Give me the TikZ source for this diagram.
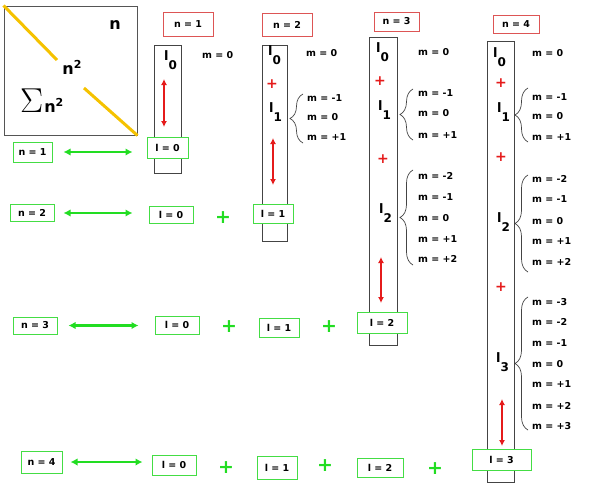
\documentclass[tikz,border=0pt]{standalone}
\usepackage{fontspec}
\setmainfont{DejaVu Sans}
\usetikzlibrary{decorations.pathreplacing,arrows.meta}
\definecolor{gboxc}{HTML}{44DD44}
\definecolor{garrc}{HTML}{22DD22}
\definecolor{rboxc}{HTML}{DD5555}
\definecolor{rarrc}{HTML}{E51B1B}
\definecolor{goldc}{HTML}{F5C200}
\definecolor{colc}{HTML}{444444}
\definecolor{sqc}{HTML}{555555}
\newcommand{\lsubx}[1]{{\fontsize{13}{13}\selectfont l}\raisebox{-9pt}{\fontsize{12}{12}\selectfont #1}}
\begin{document}
\begin{tikzpicture}[x=1pt,y=-1pt,
  every node/.style={font=\bfseries\fontsize{9.5}{11}\selectfont, inner sep=0pt},
  gbox/.style={draw=gboxc, line width=1pt, fill=white},
  rbox/.style={draw=rboxc, line width=1pt, fill=white},
  colbox/.style={draw=colc, line width=0.9pt},
  garrow/.style={draw=garrc, line width=2.5pt, {Latex[length=7pt,width=7.5pt]}-{Latex[length=7pt,width=7.5pt]}},
  rarrow/.style={draw=rarrc, line width=1.8pt, {Latex[length=6pt,width=6pt]}-{Latex[length=6pt,width=6pt]}},
  rplus/.style={text=rarrc, font=\bfseries\fontsize{14}{14}\selectfont},
  gplus/.style={text=garrc, font=\bfseries\fontsize{19}{19}\selectfont},
  mtext/.style={anchor=west},
  ltext/.style={anchor=base west},
  brc/.style={draw=colc, line width=0.7pt, decorate, decoration={brace, amplitude=13pt}},
  bigtext/.style={font=\bfseries\fontsize{16}{16}\selectfont}
]
\useasboundingbox (0,0) rectangle (596,501);

% square
\node[draw=sqc, line width=1pt, minimum width=133pt, minimum height=129pt] (sq) at (70.5,70.5) {};
\coordinate (g1) at (57,60);
\coordinate (g2) at (84,88);
\draw[goldc, line width=3pt] (sq.north west) -- (g1);
\draw[goldc, line width=3pt] (g2) -- (sq.south east);
\node[bigtext] (nlab) at (115,25) {n};
\node[bigtext] (n2lab) at (72,67) {n\raisebox{6pt}{\fontsize{11}{11}\selectfont 2}};
\node[bigtext, anchor=base west] (sumlab) at (20,112) {\scalebox{2}{\(\Sigma\)}\kern1pt n\raisebox{6pt}{\fontsize{11}{11}\selectfont 2}};

% columns
\node[colbox, minimum width=27pt, minimum height=128pt] (c1) at (167.5,109) {};
\node[colbox, minimum width=24.5pt, minimum height=196pt] (c2) at (275,143) {};
\node[colbox, minimum width=28pt, minimum height=308pt] (c3) at (383,191) {};
\node[colbox, minimum width=27pt, minimum height=441pt] (c4) at (500.5,261.5) {};

% red n boxes
\node[rbox, minimum width=50pt, minimum height=24pt] (rn1) at (188,24) {n = 1};
\node[rbox, minimum width=50pt, minimum height=23pt] (rn2) at (287,24.5) {n = 2};
\node[rbox, minimum width=45pt, minimum height=19pt] (rn3) at (396.5,21.5) {n = 3};
\node[rbox, minimum width=46pt, minimum height=18pt] (rn4) at (516,24) {n = 4};

% l labels
\node[ltext] (l10) at (164,60) {\lsubx{0}};
\node[ltext] (l20) at (268,55) {\lsubx{0}};
\node[ltext] (l21) at (269,112) {\lsubx{1}};
\node[ltext] (l30) at (376,52) {\lsubx{0}};
\node[ltext] (l31) at (378,110) {\lsubx{1}};
\node[ltext] (l32) at (379,213) {\lsubx{2}};
\node[ltext] (l40) at (493,57) {\lsubx{0}};
\node[ltext] (l41) at (497,112) {\lsubx{1}};
\node[ltext] (l42) at (497,222) {\lsubx{2}};
\node[ltext] (l43) at (496,362) {\lsubx{3}};

% red plus
\node[rplus] (p21) at (272,84) {+};
\node[rplus] (p31) at (380,81) {+};
\node[rplus] (p32) at (383,159) {+};
\node[rplus] (p41) at (501,83) {+};
\node[rplus] (p42) at (501,157) {+};
\node[rplus] (p43) at (501,287) {+};

% red arrows
\coordinate (a1t) at (164,79);  \coordinate (a1b) at (164,127);
\coordinate (a2t) at (273,138); \coordinate (a2b) at (273,185);
\coordinate (a3t) at (381,257); \coordinate (a3b) at (381,303);
\coordinate (a4t) at (502,399); \coordinate (a4b) at (502,446);
\draw[rarrow] (a1t) -- (a1b);
\draw[rarrow] (a2t) -- (a2b);
\draw[rarrow] (a3t) -- (a3b);
\draw[rarrow] (a4t) -- (a4b);

% m texts
\node[mtext] (m10) at (202,55) {m = 0};
\node[mtext] (m20) at (306,53) {m = 0};
\node[mtext] (m2a) at (307,98) {m = -1};
\node[mtext] (m2b) at (307,117) {m = 0};
\node[mtext] (m2c) at (307,137) {m = +1};
\node[mtext] (m30) at (418,52) {m = 0};
\node[mtext] (m3a) at (418,93) {m = -1};
\node[mtext] (m3b) at (418,113) {m = 0};
\node[mtext] (m3c) at (418,135) {m = +1};
\node[mtext] (m3d) at (418,176) {m = -2};
\node[mtext] (m3e) at (418,197) {m = -1};
\node[mtext] (m3f) at (418,218) {m = 0};
\node[mtext] (m3g) at (418,239) {m = +1};
\node[mtext] (m3h) at (418,259) {m = +2};
\node[mtext] (m40) at (532,53) {m = 0};
\node[mtext] (m4a) at (532,97) {m = -1};
\node[mtext] (m4b) at (532,116) {m = 0};
\node[mtext] (m4c) at (532,137) {m = +1};
\node[mtext] (m4d) at (532,179) {m = -2};
\node[mtext] (m4e) at (532,199) {m = -1};
\node[mtext] (m4f) at (532,221) {m = 0};
\node[mtext] (m4g) at (532,241) {m = +1};
\node[mtext] (m4h) at (532,262) {m = +2};
\node[mtext] (m4i) at (532,302) {m = -3};
\node[mtext] (m4j) at (532,322) {m = -2};
\node[mtext] (m4k) at (532,343) {m = -1};
\node[mtext] (m4l) at (532,364) {m = 0};
\node[mtext] (m4m) at (532,384) {m = +1};
\node[mtext] (m4n) at (532,406) {m = +2};
\node[mtext] (m4o) at (532,426) {m = +3};

% braces
\coordinate (b2t) at (303,94);  \coordinate (b2b) at (303,143);
\coordinate (b31t) at (413,89); \coordinate (b31b) at (413,140);
\coordinate (b32t) at (413,170); \coordinate (b32b) at (413,265);
\coordinate (b41t) at (528,88); \coordinate (b41b) at (528,142);
\coordinate (b42t) at (528,175); \coordinate (b42b) at (528,272);
\coordinate (b43t) at (528,297); \coordinate (b43b) at (528,430);
\draw[brc] (b2b) -- (b2t);
\draw[brc] (b31b) -- (b31t);
\draw[brc] (b32b) -- (b32t);
\draw[brc] (b41b) -- (b41t);
\draw[brc] (b42b) -- (b42t);
\draw[brc] (b43b) -- (b43t);

% row 1
\node[gbox, minimum width=39pt, minimum height=20pt] (n1) at (32.5,152) {n = 1};
\node[gbox, minimum width=41pt, minimum height=21pt] (r10) at (167.5,147.5) {l = 0};
\draw[garrow, shorten <=11pt, shorten >=14pt] (n1.east) -- (n1.east -| r10.west);

% row 2
\node[gbox, minimum width=44pt, minimum height=17pt] (n2) at (32,213) {n = 2};
\node[gbox, minimum width=44pt, minimum height=17pt] (r20) at (171,215) {l = 0};
\node[gplus] (q21) at (223,218) {+};
\node[gbox, minimum width=40pt, minimum height=19pt] (r21) at (273,213.5) {l = 1};
\draw[garrow, shorten <=9pt, shorten >=16pt] (n2.east) -- (n2.east -| r20.west);

% row 3
\node[gbox, minimum width=44pt, minimum height=17pt] (n3) at (35,325.5) {n = 3};
\node[gbox, minimum width=44pt, minimum height=18pt] (r30) at (177,325) {l = 0};
\node[gplus] (q31) at (229,327) {+};
\node[gbox, minimum width=40pt, minimum height=19pt] (r31) at (279,327.5) {l = 1};
\node[gplus] (q32) at (329,327) {+};
\node[gbox, minimum width=50pt, minimum height=21pt] (r32) at (382,322.5) {l = 2};
\draw[garrow, shorten <=11pt, shorten >=16pt] (n3.east) -- (n3.east -| r30.west);

% row 4
\node[gbox, minimum width=41pt, minimum height=22pt] (n4) at (41.5,462) {n = 4};
\node[gbox, minimum width=44pt, minimum height=20pt] (r40) at (174,465) {l = 0};
\node[gplus] (q41) at (226,468) {+};
\node[gbox, minimum width=40pt, minimum height=23pt] (r41) at (277,467.5) {l = 1};
\node[gplus] (q42) at (325,466) {+};
\node[gbox, minimum width=46pt, minimum height=19pt] (r42) at (380,467.5) {l = 2};
\node[gplus] (q43) at (435,469) {+};
\node[gbox, minimum width=59pt, minimum height=21pt] (r43) at (501.5,459.5) {l = 3};
\draw[garrow, shorten <=8pt, shorten >=9pt] (n4.east) -- (n4.east -| r40.west);
\end{tikzpicture}
\end{document}
